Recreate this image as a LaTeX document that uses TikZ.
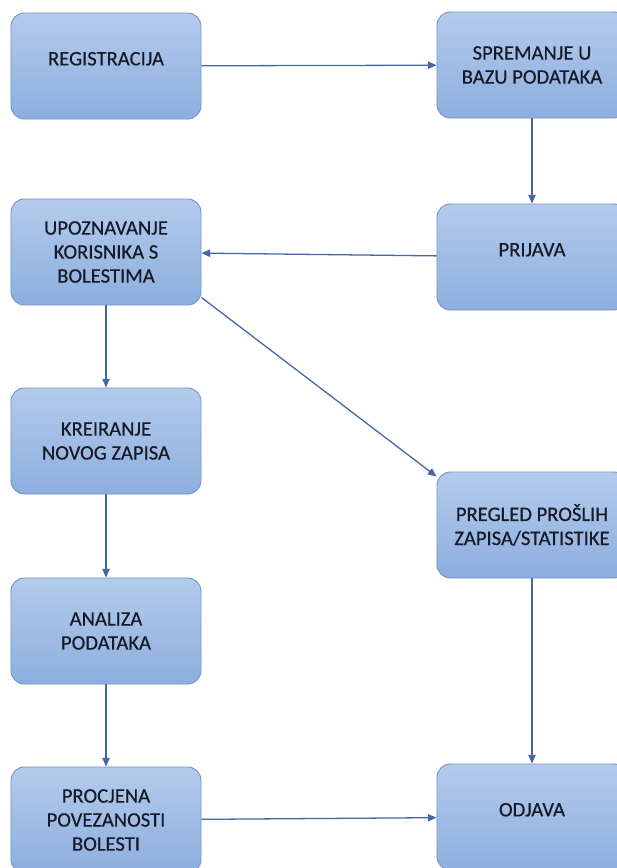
\documentclass[tikz,border=0pt]{standalone}
\usepackage{fontspec}
\setmainfont{Carlito}
\newfontfamily\boxfont[FakeBold=0.4]{Carlito}
\usetikzlibrary{arrows.meta}
\definecolor{boxtop}{RGB}{180,203,236}
\definecolor{boxbot}{RGB}{140,174,222}
\definecolor{boxline}{RGB}{118,148,198}
\definecolor{flowc}{RGB}{70,102,164}
\definecolor{txt}{RGB}{22,26,38}
\tikzset{
	box/.style={rectangle, rounded corners=4mm, draw=boxline, line width=0.8pt, top color=boxtop, bottom color=boxbot, minimum width=57mm, minimum height=31.8mm, inner sep=0pt, align=center, text=txt, font=\boxfont\fontsize{17.6}{20.5}\selectfont},
	oneline/.style={text depth=4.4mm},
	flow/.style={->, draw=flowc, line width=1.1pt}
}
\begin{document}
\begin{tikzpicture}[x=0.3mm, y=-0.3mm, >={Triangle[length=2.6mm,width=2.2mm]}]
		\useasboundingbox (0,0) rectangle (617,868);
		\clip (0,0) rectangle (617,868);

		\draw (106,66) node (reg) [box, oneline] {REGISTRACIJA};
		\draw (532,65) node (spr) [box] {SPREMANJE U\\BAZU PODATAKA};
		\draw (532,257) node (pri) [box, oneline] {PRIJAVA};
		\draw (106,252) node (upo) [box] {UPOZNAVANJE\\KORISNIKA S\\BOLESTIMA};
		\draw (106,441) node (kre) [box] {KREIRANJE\\NOVOG ZAPISA};
		\draw (532,525) node (pre) [box] {PREGLED PROŠLIH\\ZAPISA/STATISTIKE};
		\draw (106,631) node (ana) [box] {ANALIZA\\PODATAKA};
		\draw (106,820) node (pro) [box] {PROCJENA\\POVEZANOSTI\\BOLESTI};
		\draw (532,817) node (odj) [box, oneline] {ODJAVA};

		\draw[flow] (reg) to (spr);
		\draw[flow] (spr) to (pri);
		\draw[flow] (pri) to (upo);
		\draw[flow] (upo) to (kre);
		\draw[flow] ([yshift=2.4mm]upo.south east) to ([yshift=-1.5mm]pre.north west);
		\draw[flow] (kre) to (ana);
		\draw[flow] (ana) to (pro);
		\draw[flow] (pre) to (odj);
		\draw[flow] (pro) to (odj);
	\end{tikzpicture}
\end{document}
